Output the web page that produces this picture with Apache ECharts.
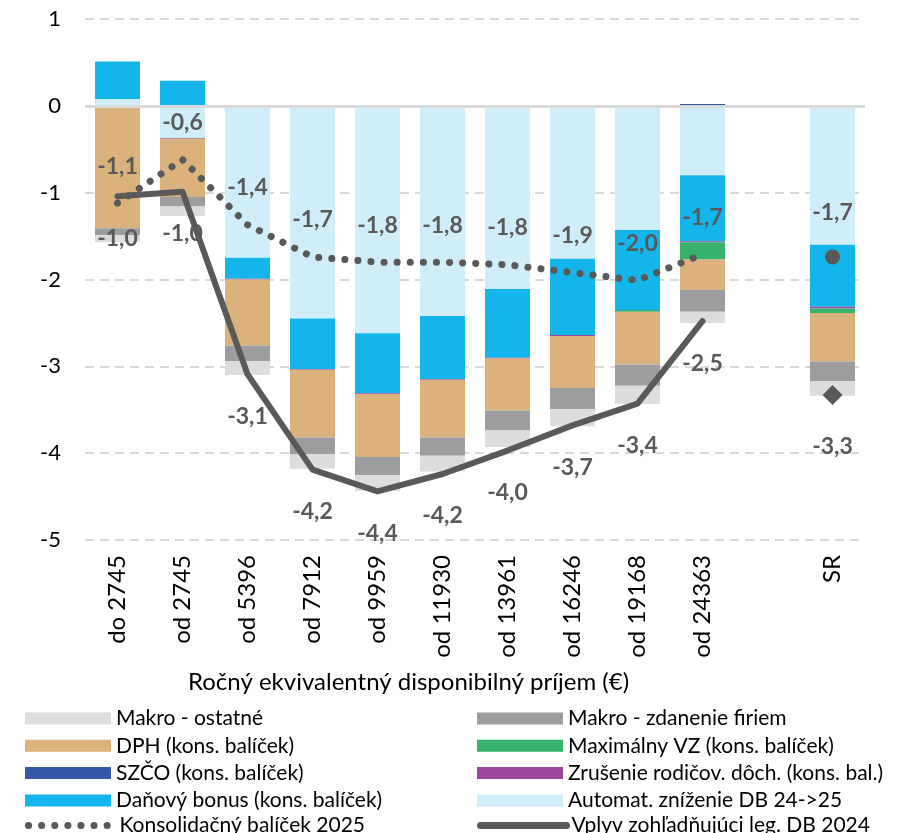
<!DOCTYPE html>
<html>
<head>
<meta charset="utf-8">
<script src="https://cdn.jsdelivr.net/npm/echarts@6/dist/echarts.min.js"></script>
<style>
  html, body { margin: 0; padding: 0; background: #fff; }
  #main { width: 899px; height: 833px; }
</style>
</head>
<body>
<div id="main"></div>
<script>
// kategórie príjmu (prázdna medzera pred SR)
var categories = ['do 2745', 'od 2745', 'od 5396', 'od 7912', 'od 9959', 'od 11930', 'od 13961', 'od 16246', 'od 19168', 'od 24363', '', 'SR'];

// zložky stĺpcov
var automatDB = [0.08, -0.37, -1.75, -2.45, -2.62, -2.42, -2.11, -1.76, -1.43, -0.80, null, -1.60];
var danovyBonus = [0.43, 0.29, -0.24, -0.58, -0.69, -0.725, -0.79, -0.88, -0.92, -0.76, null, -0.715];
var zrusenieRod = [0, -0.01, -0.01, -0.01, -0.01, -0.01, -0.01, -0.01, 0, -0.01, null, -0.02];
var szco = [0, 0, 0, 0, 0, 0, 0, 0, 0, 0.02, null, 0];
var maxVZ = [-0.02, 0, 0, 0, 0, 0, 0, 0, -0.02, -0.20, null, -0.05];
var dph = [-1.39, -0.67, -0.76, -0.78, -0.725, -0.665, -0.60, -0.60, -0.61, -0.35, null, -0.56];
var makroFirmy = [-0.08, -0.11, -0.18, -0.19, -0.21, -0.21, -0.23, -0.24, -0.245, -0.25, null, -0.225];
var makroOstatne = [-0.08, -0.11, -0.16, -0.17, -0.18, -0.18, -0.19, -0.20, -0.21, -0.13, null, -0.17];

// čiary
var konsBalicek = [-1.12, -0.62, -1.37, -1.74, -1.80, -1.80, -1.83, -1.92, -2.01, -1.71, null, -1.74];
var vplyvDB = [-1.04, -0.99, -3.09, -4.19, -4.44, -4.24, -3.97, -3.68, -3.43, -2.48, null, -3.33];

var FONT = 'Lato';
var GRAY = '#595959';

function fmt(p) {
  return p.value == null ? '' : p.value.toFixed(1).replace('.', ',');
}

function barSeries(name, data, color) {
  return {
    name: name,
    type: 'bar',
    stack: 'a',
    barWidth: 45,
    data: data,
    itemStyle: { color: color },
    emphasis: { disabled: true }
  };
}

// posledný bod (SR) zvlášť ako značka
function lineData(arr, symbol, size) {
  return arr.map(function (v, i) {
    if (i === arr.length - 1) {
      return { value: v, symbol: symbol, symbolSize: size, itemStyle: { color: GRAY } };
    }
    return v;
  });
}

function legendBox(left, top, items) {
  return {
    orient: 'vertical',
    left: left,
    top: top,
    itemWidth: 86,
    itemHeight: 12,
    itemGap: 6.3,
    selectedMode: false,
    textStyle: { fontFamily: FONT, fontSize: 21, color: '#000', lineHeight: 20 },
    data: items
  };
}

var chart = echarts.init(document.getElementById('main'));

var labelStyle = {
  show: true,
  formatter: fmt,
  fontFamily: FONT,
  fontWeight: 'bold',
  fontSize: 23,
  color: GRAY
};

var option = {
  animation: false,
  grid: { left: 85, right: 34, top: 19, bottom: 293 },
  legend: [
    legendBox(20, 703, [
      { name: 'Makro - ostatné', icon: 'rect' },
      { name: 'DPH (kons. balíček)', icon: 'rect' },
      { name: 'SZČO (kons. balíček)', icon: 'rect' },
      { name: 'Daňový bonus (kons. balíček)', icon: 'rect' }
    ]),
    legendBox(472, 703, [
      { name: 'Makro - zdanenie firiem', icon: 'rect' },
      { name: 'Maximálny VZ (kons. balíček)', icon: 'rect' },
      { name: 'Zrušenie rodičov. dôch. (kons. bal.)', icon: 'rect' },
      { name: 'Automat. zníženie DB 24->25', icon: 'rect' }
    ]),
    legendBox(20, 810, [{
      name: 'Konsolidačný balíček 2025',
      lineStyle: { width: 7, type: [0.1, 13], cap: 'round', color: GRAY }
    }]),
    legendBox(472, 810, [{
      name: 'Vplyv zohľadňujúci leg. DB 2024',
      lineStyle: { width: 7, cap: 'round', color: GRAY }
    }])
  ],
  graphic: [{
    type: 'text',
    left: 188,
    top: 670,
    style: {
      text: 'Ročný ekvivalentný disponibilný príjem (€)',
      fontFamily: FONT,
      fontSize: 24,
      fill: '#000'
    }
  }],
  xAxis: {
    type: 'category',
    data: categories,
    axisLine: { show: false },
    axisTick: { show: false },
    axisLabel: {
      rotate: 90,
      margin: 15,
      interval: 0,
      fontFamily: FONT,
      fontSize: 24,
      color: '#000'
    }
  },
  yAxis: {
    type: 'value',
    min: -5,
    max: 1,
    interval: 1,
    axisLine: { show: false },
    axisTick: { show: false },
    axisLabel: { fontFamily: FONT, fontSize: 22, color: '#000', margin: 24 },
    splitLine: { lineStyle: { color: '#d9d9d9', width: 2, type: [9, 6] } }
  },
  series: [
    Object.assign(barSeries('Automat. zníženie DB 24->25', automatDB, '#D0EEF9'), {
      markLine: {
        silent: true,
        symbol: 'none',
        label: { show: false },
        lineStyle: { color: '#d9d9d9', width: 3, type: 'solid' },
        data: [{ yAxis: 0 }]
      }
    }),
    barSeries('Daňový bonus (kons. balíček)', danovyBonus, '#14B5EA'),
    barSeries('Zrušenie rodičov. dôch. (kons. bal.)', zrusenieRod, '#9B479B'),
    barSeries('SZČO (kons. balíček)', szco, '#3557A6'),
    barSeries('Maximálny VZ (kons. balíček)', maxVZ, '#37B26C'),
    barSeries('DPH (kons. balíček)', dph, '#DBB27B'),
    barSeries('Makro - zdanenie firiem', makroFirmy, '#9D9D9F'),
    barSeries('Makro - ostatné', makroOstatne, '#DDDDDD'),
    {
      name: 'Konsolidačný balíček 2025',
      type: 'line',
      data: lineData(konsBalicek, 'circle', 15),
      symbol: 'circle',
      symbolSize: 1,
      itemStyle: { color: 'rgba(0,0,0,0)' },
      connectNulls: false,
      lineStyle: { color: GRAY, width: 7, type: [0.1, 13], cap: 'round' },
      label: Object.assign({ position: 'top', distance: 25 }, labelStyle),
      emphasis: { disabled: true },
      z: 5
    },
    {
      name: 'Vplyv zohľadňujúci leg. DB 2024',
      type: 'line',
      data: lineData(vplyvDB, 'diamond', 20),
      symbol: 'circle',
      symbolSize: 1,
      itemStyle: { color: 'rgba(0,0,0,0)' },
      connectNulls: false,
      lineStyle: { color: GRAY, width: 6, cap: 'round', join: 'round' },
      label: Object.assign({ position: 'bottom', distance: 30 }, labelStyle),
      emphasis: { disabled: true },
      z: 4
    }
  ]
};

chart.setOption(option);
</script>
</body>
</html>
